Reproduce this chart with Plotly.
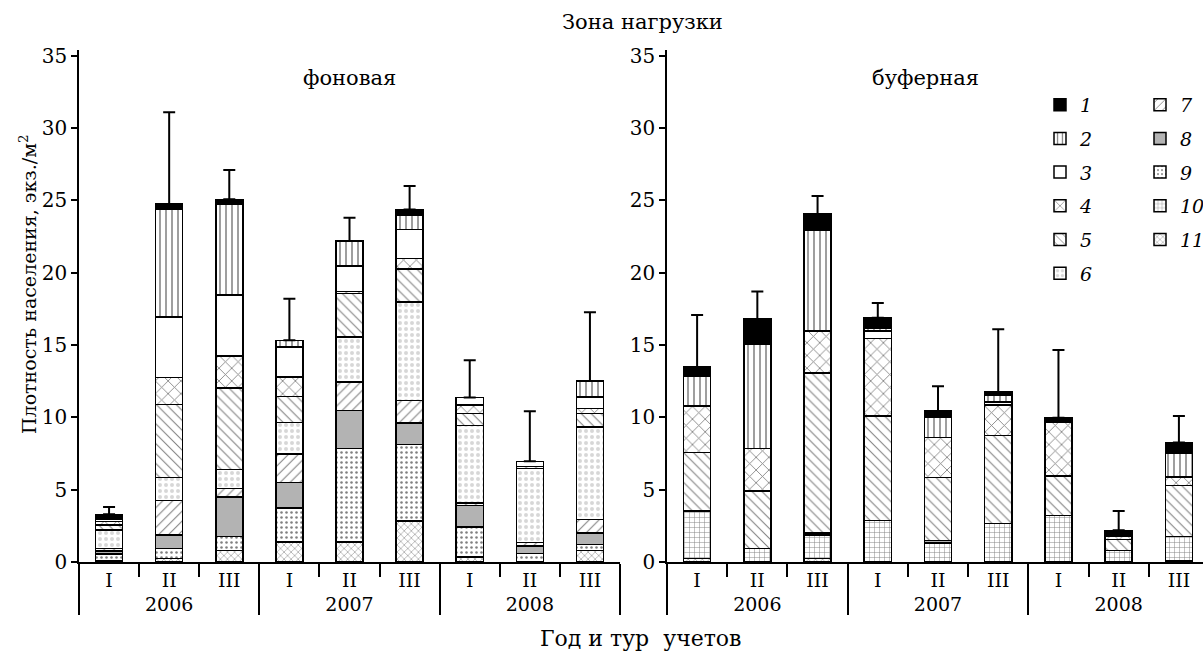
import plotly.graph_objects as go

years = ["2006"] * 3 + ["2007"] * 3 + ["2008"] * 3
tours = ["I", "II", "III"] * 3
series_names = ["1", "2", "3", "4", "5", "6", "7", "8", "9", "10", "11"]

# values per series (index 0 -> series 1 ... index 10 -> series 11), 9 bars each
bg_1 = [0.25, 0.34, 0.36, 0.0, 0.0, 0.39, 0.0, 0.0, 0.0]
bg_2 = [0.10, 7.45, 6.25, 0.46, 1.75, 0.99, 0.0, 0.0, 1.11]
bg_3 = [0.15, 4.20, 4.22, 2.07, 1.75, 2.01, 0.53, 0.34, 0.81]
bg_4 = [0.25, 1.85, 2.22, 1.34, 0.14, 0.72, 0.58, 0.0, 0.34]
bg_5 = [0.35, 5.05, 5.64, 1.81, 3.00, 2.28, 0.81, 0.16, 0.92]
bg_6 = [1.25, 1.60, 1.30, 2.17, 3.11, 6.80, 5.38, 5.12, 6.41]
bg_7 = [0.20, 2.40, 0.58, 1.99, 1.96, 1.56, 0.15, 0.24, 0.93]
bg_8 = [0.20, 0.90, 2.75, 1.74, 2.64, 1.48, 1.50, 0.52, 0.78]
bg_9 = [0.45, 0.70, 0.95, 2.38, 6.48, 5.30, 2.07, 0.58, 0.41]
bg_10 = [0.0, 0.0, 0.0, 0.0, 0.0, 0.0, 0.0, 0.0, 0.0]
bg_11 = [0.10, 0.25, 0.81, 1.37, 1.37, 2.84, 0.35, 0.0, 0.81]
bg_err_top = [3.80, 31.1, 27.1, 18.2, 23.8, 26.0, 13.95, 10.42, 17.27]

bf_1 = [0.65, 1.73, 1.11, 0.74, 0.46, 0.23, 0.30, 0.39, 0.72]
bf_2 = [2.07, 7.22, 6.96, 0.16, 1.38, 0.46, 0.0, 0.0, 1.66]
bf_3 = [0.0, 0.0, 0.0, 0.53, 0.0, 0.23, 0.0, 0.0, 0.0]
bf_4 = [3.20, 2.93, 2.91, 5.35, 2.76, 2.08, 3.73, 0.25, 0.58]
bf_5 = [4.04, 3.99, 11.07, 7.22, 4.34, 6.10, 2.72, 0.74, 3.52]
bf_6 = [0.0] * 9
bf_7 = [0.0] * 9
bf_8 = [0.0, 0.0, 0.15, 0.0, 0.18, 0.0, 0.0, 0.0, 0.0]
bf_9 = [0.0] * 9
bf_10 = [3.30, 0.92, 1.62, 2.88, 1.32, 2.66, 3.23, 0.81, 1.68]
bf_11 = [0.23, 0.0, 0.23, 0.0, 0.0, 0.0, 0.0, 0.0, 0.10]
bf_err_top = [17.08, 18.7, 25.31, 17.91, 12.15, 16.1, 14.65, 3.53, 10.1]

bg = [bg_1, bg_2, bg_3, bg_4, bg_5, bg_6, bg_7, bg_8, bg_9, bg_10, bg_11]
bf = [bf_1, bf_2, bf_3, bf_4, bf_5, bf_6, bf_7, bf_8, bf_9, bf_10, bf_11]

FONT = "DejaVu Serif"

styles = {
    "1": dict(color="black", pattern=None),
    "2": dict(color="white", pattern=dict(shape="|", fgcolor="black", bgcolor="white", size=6, solidity=0.25)),
    "3": dict(color="white", pattern=None),
    "4": dict(color="white", pattern=dict(shape="x", fgcolor="black", bgcolor="white", size=9, solidity=0.18)),
    "5": dict(color="white", pattern=dict(shape="\\", fgcolor="black", bgcolor="white", size=7, solidity=0.15)),
    "6": dict(color="white", pattern=dict(shape=".", fgcolor="#b0b0b0", bgcolor="white", size=6, solidity=0.35)),
    "7": dict(color="white", pattern=dict(shape="/", fgcolor="black", bgcolor="white", size=7, solidity=0.15)),
    "8": dict(color="#b3b3b3", pattern=None),
    "9": dict(color="white", pattern=dict(shape=".", fgcolor="black", bgcolor="white", size=5, solidity=0.2)),
    "10": dict(color="white", pattern=dict(shape="+", fgcolor="black", bgcolor="white", size=5, solidity=0.18)),
    "11": dict(color="white", pattern=dict(shape="x", fgcolor="black", bgcolor="white", size=5, solidity=0.2)),
}

fig = go.Figure()
x_mc = [years, tours]

# stack from bottom: 11 ... 1
for idx in range(10, -1, -1):
    name = series_names[idx]
    st = styles[name]
    marker = dict(color=st["color"], line=dict(color="black", width=1.5))
    if st["pattern"] is not None:
        marker["pattern"] = st["pattern"]
    leg = "legend" if idx <= 5 else "legend2"
    fig.add_trace(go.Bar(x=x_mc, y=bg[idx], name="<i>%s</i>" % name, marker=marker,
                         xaxis="x", yaxis="y", legend=leg, legendgroup=name,
                         legendrank=idx + 1, showlegend=True, hoverinfo="skip"))
    fig.add_trace(go.Bar(x=x_mc, y=bf[idx], name="<i>%s</i>" % name, marker=marker,
                         xaxis="x2", yaxis="y2", legend=leg, legendgroup=name,
                         legendrank=idx + 1, showlegend=False, hoverinfo="skip"))

bg_tot = [sum(s[i] for s in bg) for i in range(9)]
bf_tot = [sum(s[i] for s in bf) for i in range(9)]

for tot, top, xa, ya in [(bg_tot, bg_err_top, "x", "y"), (bf_tot, bf_err_top, "x2", "y2")]:
    fig.add_trace(go.Scatter(
        x=x_mc, y=tot, mode="markers", marker=dict(size=1, color="rgba(0,0,0,0)"),
        error_y=dict(type="data", symmetric=False, array=[t - v for t, v in zip(top, tot)],
                     arrayminus=[0] * 9, color="black", thickness=2, width=6),
        xaxis=xa, yaxis=ya, showlegend=False, hoverinfo="skip"))

W, H = 1203, 653
ml, mr, mt, mb = 0, 0, 50, 91

xcommon = dict(type="multicategory", showline=True, linecolor="black", linewidth=1.5,
               ticks="outside", tickson="boundaries", ticklen=13, tickwidth=1.5, tickcolor="black",
               showdividers=True, dividercolor="black", dividerwidth=1.5,
               showgrid=False, zeroline=False, automargin=False,
               tickfont=dict(family=FONT, size=19, color="black"))
ycommon = dict(range=[0, 35.4], tickvals=[0, 5, 10, 15, 20, 25, 30, 35], showline=True,
               linecolor="black", linewidth=1.5, ticks="outside", ticklen=6, tickwidth=1.5,
               tickcolor="black", showgrid=False, zeroline=False, automargin=False,
               tickfont=dict(family=FONT, size=20, color="black"))

fig.update_layout(
    width=W, height=H, margin=dict(l=ml, r=mr, t=mt, b=mb, autoexpand=False),
    paper_bgcolor="white", plot_bgcolor="white",
    barmode="stack", bargap=0.55,
    font=dict(family=FONT, color="black", size=18),
    xaxis=dict(domain=[79 / W, 620 / W], range=[-0.5, 8.5], anchor="y", **xcommon),
    xaxis2=dict(domain=[667 / W, 1.0], range=[-0.5, 8.4], anchor="y2", **xcommon),
    yaxis=dict(anchor="x", **ycommon),
    yaxis2=dict(anchor="x2", **ycommon),
    legend=dict(x=1040 / W, y=0.930, xanchor="left", yanchor="top", traceorder="grouped",
                tracegroupgap=6, bgcolor="rgba(0,0,0,0)", font=dict(family=FONT, size=19),
                itemwidth=30),
    legend2=dict(x=1140 / W, y=0.930, xanchor="left", yanchor="top", traceorder="grouped",
                 tracegroupgap=6, bgcolor="rgba(0,0,0,0)", font=dict(family=FONT, size=19),
                 itemwidth=30),
    showlegend=True,
)

ph = H - mt - mb


def py(p):
    return (H - mb - p) / ph


annotations = [
    dict(text="Зона нагрузки", x=642 / W, y=py(22), xref="paper", yref="paper",
         xanchor="center", yanchor="middle", showarrow=False, font=dict(family=FONT, size=21)),
    dict(text="фоновая", x=349 / W, y=py(78), xref="paper", yref="paper",
         xanchor="center", yanchor="middle", showarrow=False, font=dict(family=FONT, size=21)),
    dict(text="буферная", x=925 / W, y=py(78), xref="paper", yref="paper",
         xanchor="center", yanchor="middle", showarrow=False, font=dict(family=FONT, size=21)),
    dict(text="Год и тур  учетов", x=641 / W, y=py(638), xref="paper", yref="paper",
         xanchor="center", yanchor="middle", showarrow=False, font=dict(family=FONT, size=22)),
    dict(text="Плотность населения, экз./м<sup>2</sup>", x=28 / W, y=py(285), xref="paper",
         yref="paper", xanchor="center", yanchor="middle", textangle=-90, showarrow=False,
         font=dict(family=FONT, size=19)),
]
fig.update_layout(annotations=annotations)

fig.write_html("out.html", config={"displayModeBar": False},
               post_script="document.body.style.margin='0px';document.body.style.padding='0px';")
